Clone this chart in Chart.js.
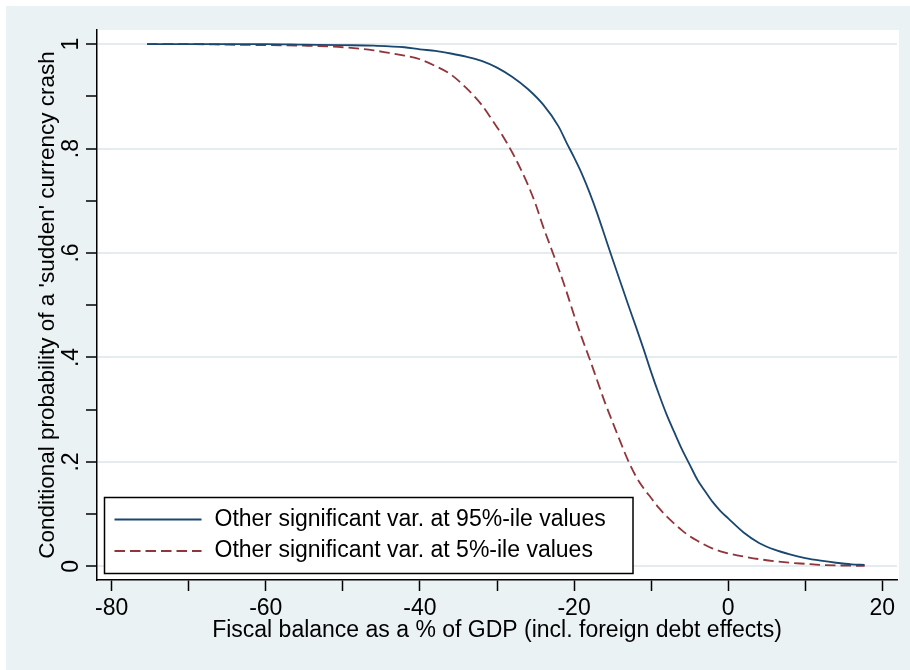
<!DOCTYPE html>
<html>
<head>
<meta charset="utf-8">
<script src="https://cdn.jsdelivr.net/npm/chart.js@4"></script>
<style>
html,body{margin:0;padding:0;background:#fff;}
#wrap{width:910px;height:670px;}
</style>
</head>
<body>
<div id="wrap"><canvas id="c" width="910" height="670"></canvas></div>
<script>
// ---- data ----
const blueLabel = "Other significant var. at 95%-ile values";
const redLabel  = "Other significant var. at 5%-ile values";
const xTitle = "Fiscal balance as a % of GDP (incl. foreign debt effects)";
const yTitle = "Conditional probability of a 'sudden' currency crash";

const blueX = [-75.4,-70,-65,-60,-55,-50,-46,-42,-40,-38,-36,-34,-32,-30,-28,-26,-24,-22,-21,-20,-19,-18,-17,-16,-15,-14,-13,-12,-11,-10,-9,-8,-7,-6,-5,-4,-3,-2,-1,0,2,4,6,8,10,12,14,16,17.7];
const blueY = [1.000,1.000,1.000,1.000,0.999,0.998,0.997,0.994,0.990,0.987,0.982,0.976,0.968,0.955,0.937,0.914,0.884,0.842,0.812,0.783,0.752,0.716,0.676,0.632,0.588,0.545,0.502,0.460,0.417,0.372,0.330,0.291,0.257,0.224,0.195,0.166,0.144,0.123,0.106,0.092,0.065,0.045,0.032,0.023,0.016,0.011,0.007,0.004,0.003];

const redX = [-75.4,-70,-65,-60,-55,-50,-46,-44,-42,-40,-38,-36,-34,-32,-31,-30,-29,-28,-27,-26,-25,-24,-23,-22,-21,-20,-19,-18,-17,-16,-15,-14,-13,-12,-11,-10,-9,-8,-7,-6,-5,-4,-3,-2,-1,0,2,4,6,8,10,12,14,17.7];
const redY = [1.000,1.000,0.999,0.998,0.997,0.994,0.988,0.983,0.978,0.971,0.958,0.942,0.916,0.884,0.863,0.841,0.818,0.792,0.763,0.731,0.694,0.650,0.610,0.570,0.527,0.481,0.438,0.398,0.356,0.314,0.276,0.239,0.203,0.173,0.150,0.131,0.112,0.096,0.082,0.069,0.058,0.049,0.041,0.034,0.029,0.025,0.019,0.014,0.010,0.007,0.005,0.003,0.002,0.001];

const xTicks = [-80,-70,-60,-50,-40,-30,-20,-10,0,10,20];
const xTickLabels = ["-80","","-60","","-40","","-20","","0","","20"];
const yTicks = [0,0.1,0.2,0.3,0.4,0.5,0.6,0.7,0.8,0.9,1];
const yTickLabels = ["0","",".2","",".4","",".6","",".8","","1"];

// ---- styling ----
const FONT = "'Liberation Sans', Arial, sans-serif";
const BLUE = "#1a476f";
const RED = "#90353b";
const BG = "#eaf2f3";
const GRID = "#e4ecef";

const bgPlugin = {
  id: 'bg',
  beforeDraw(chart) {
    const ctx = chart.ctx, a = chart.chartArea;
    ctx.save();
    ctx.fillStyle = '#ffffff';
    ctx.fillRect(0, 0, chart.width, chart.height);
    ctx.fillStyle = BG;
    ctx.fillRect(6, 6, chart.width - 6, chart.height - 6);
    ctx.fillStyle = '#ffffff';
    ctx.fillRect(a.left, a.top, a.right - a.left + 2, a.bottom - a.top);
    ctx.restore();
  }
};

const legendPlugin = {
  id: 'boxLegend',
  afterDraw(chart) {
    const ctx = chart.ctx, a = chart.chartArea;
    const bx = a.left + 7.5, by = a.bottom - 82.5, bw = 528.5, bh = 76;
    ctx.save();
    ctx.fillStyle = '#ffffff';
    ctx.fillRect(bx, by, bw, bh);
    ctx.strokeStyle = '#000000';
    ctx.lineWidth = 1.5;
    ctx.strokeRect(bx, by, bw, bh);
    const rows = [22, 53.5];
    chart.data.datasets.forEach((ds, i) => {
      const y = by + rows[i];
      ctx.beginPath();
      ctx.strokeStyle = ds.borderColor;
      ctx.lineWidth = ds.borderWidth;
      ctx.setLineDash(ds.borderDash || []);
      ctx.moveTo(bx + 10, y);
      ctx.lineTo(bx + 97, y);
      ctx.stroke();
      ctx.setLineDash([]);
      ctx.fillStyle = '#000000';
      ctx.font = '23px ' + FONT;
      ctx.textBaseline = 'middle';
      ctx.textAlign = 'left';
      ctx.fillText(ds.label, bx + 110, y);
    });
    ctx.restore();
  }
};

const toPts = (xs, ys) => xs.map((x, i) => ({x: x, y: ys[i]}));

new Chart(document.getElementById('c'), {
  type: 'scatter',
  data: {
    datasets: [
      {label: blueLabel, data: toPts(blueX, blueY), showLine: true, borderColor: BLUE, borderWidth: 1.8, pointRadius: 0, cubicInterpolationMode: 'monotone', fill: false},
      {label: redLabel, data: toPts(redX, redY), showLine: true, borderColor: RED, borderWidth: 1.8, borderDash: [10.5, 5], pointRadius: 0, cubicInterpolationMode: 'monotone', fill: false}
    ]
  },
  options: {
    responsive: false,
    animation: false,
    devicePixelRatio: 1,
    layout: {padding: {left: 0, top: 30, right: 13, bottom: 0}},
    plugins: {legend: {display: false}, tooltip: {enabled: false}},
    scales: {
      x: {
        type: 'linear', min: -81.9, max: 21.9,
        afterFit(s) { s.height = 90; },
        afterBuildTicks(s) { s.ticks = xTicks.map(v => ({value: v})); },
        border: {display: true, color: '#000', width: 1.5},
        grid: {drawOnChartArea: false, drawTicks: true, tickLength: 11, tickColor: '#000', tickWidth: 1.5},
        ticks: {
          color: '#000', font: {family: FONT, size: 23}, padding: 4, maxRotation: 0, minRotation: 0, autoSkip: false,
          callback: (v) => { const i = xTicks.indexOf(v); return i >= 0 ? xTickLabels[i] : ''; }
        },
        title: {display: true, text: xTitle, color: '#000', font: {family: FONT, size: 23}, padding: {top: 0, bottom: 25.7}}
      },
      y: {
        type: 'linear', min: -0.026, max: 1.027,
        afterFit(s) { s.width = 97; },
        afterBuildTicks(s) { s.ticks = yTicks.map(v => ({value: v})); },
        border: {display: true, color: '#000', width: 1.5},
        grid: {
          drawOnChartArea: true, drawTicks: true, tickLength: 11, tickColor: '#000', tickWidth: 1.5, lineWidth: 2,
          color: (c) => { const i = yTicks.indexOf(c.tick ? c.tick.value : NaN); return (i >= 0 && yTickLabels[i] !== '') ? GRID : 'rgba(0,0,0,0)'; }
        },
        ticks: {
          color: '#000', font: {family: FONT, size: 23}, padding: 5, minRotation: 90, maxRotation: 90, crossAlign: 'center', autoSkip: false,
          callback: (v) => { const i = yTicks.indexOf(v); return i >= 0 ? yTickLabels[i] : ''; }
        },
        title: {display: true, text: yTitle, color: '#000', font: {family: FONT, size: 22.5}, padding: {top: 34.5, bottom: 0}}
      }
    }
  },
  plugins: [bgPlugin, legendPlugin]
});
</script>
</body>
</html>
